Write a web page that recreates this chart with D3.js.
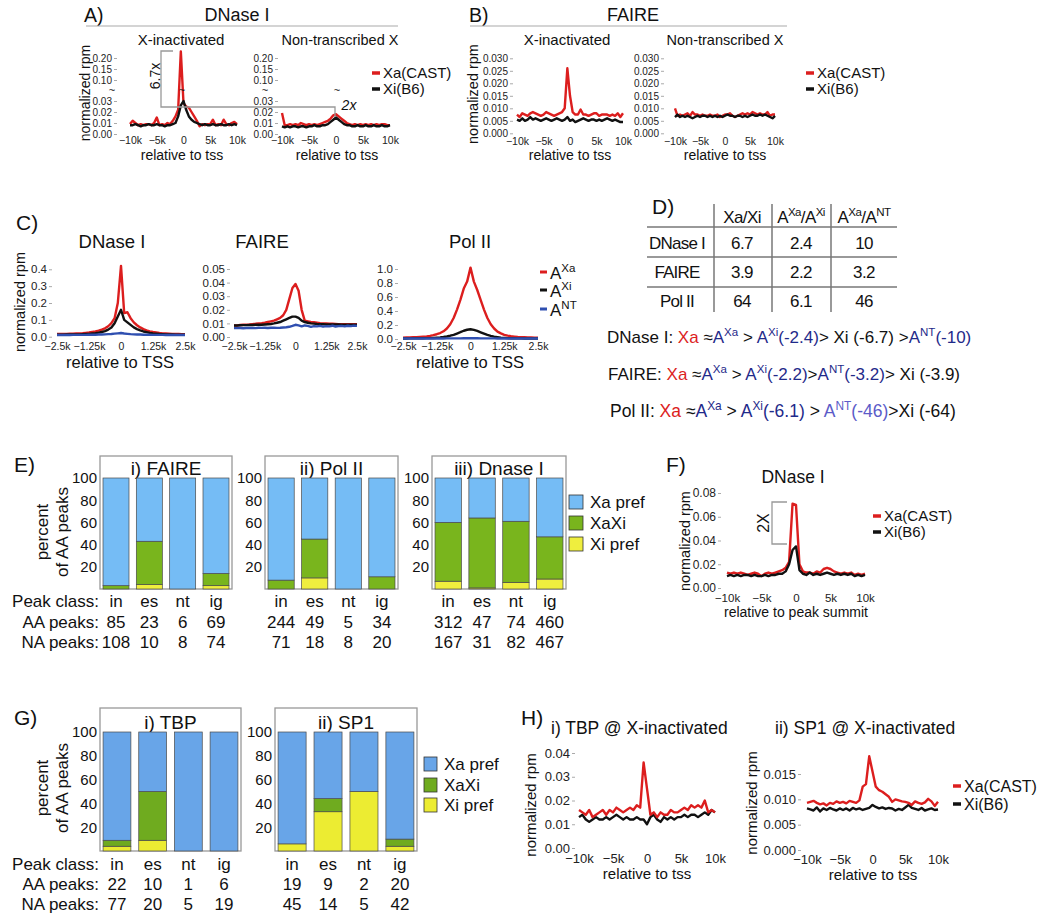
<!DOCTYPE html>
<html><head><meta charset="utf-8">
<script src="https://cdn.jsdelivr.net/npm/d3@7"></script>
<style>body{margin:0;background:#fff} svg{display:block}</style>
</head><body><svg id="c" width="1050" height="918"></svg>
<script>
// ---------------- DATA ----------------
const bins10 = [-10000,-9500,-9000,-8500,-8000,-7500,-7000,-6500,-6000,-5500,-5000,-4500,-4000,-3500,-3000,-2500,-2000,-1500,-1000,-500,0,500,1000,1500,2000,2500,3000,3500,4000,4500,5000,5500,6000,6500,7000,7500,8000,8500,9000,9500,10000];
const binsC = [-2500,-2375,-2250,-2125,-2000,-1875,-1750,-1625,-1500,-1375,-1250,-1125,-1000,-875,-750,-625,-500,-375,-250,-125,0,125,250,375,500,625,750,875,1000,1125,1250,1375,1500,1625,1750,1875,2000,2125,2250,2375,2500];
const ticks10 = [-10000,-5000,0,5000,10000];
const ticksC = [-2500,-1250,0,1250,2500];

// A) DNase I
const aInactXa = [0.009,0.012,0.010,0.008,0.009,0.008,0.009,0.009,0.008,0.010,0.015,0.008,0.009,0.008,0.010,0.009,0.012,0.016,0.022,0.230,0.028,0.025,0.024,0.020,0.016,0.012,0.007,0.009,0.008,0.009,0.009,0.013,0.008,0.009,0.008,0.013,0.009,0.008,0.010,0.011,0.009];
const aInactXi = [0.008,0.008,0.009,0.008,0.007,0.008,0.008,0.009,0.008,0.008,0.009,0.008,0.008,0.007,0.008,0.008,0.009,0.010,0.016,0.026,0.030,0.022,0.016,0.013,0.011,0.010,0.009,0.008,0.009,0.008,0.008,0.009,0.008,0.008,0.009,0.008,0.008,0.009,0.008,0.009,0.008];
const aNtXa = [0.019,0.008,0.008,0.009,0.008,0.009,0.008,0.010,0.009,0.008,0.009,0.008,0.009,0.008,0.009,0.010,0.011,0.012,0.014,0.017,0.018,0.016,0.014,0.012,0.010,0.009,0.008,0.009,0.008,0.009,0.008,0.009,0.008,0.009,0.008,0.009,0.008,0.009,0.009,0.008,0.008];
const aNtXi = [0.007,0.006,0.007,0.006,0.007,0.007,0.006,0.007,0.007,0.006,0.007,0.007,0.008,0.007,0.007,0.008,0.008,0.009,0.011,0.013,0.015,0.013,0.011,0.009,0.008,0.008,0.007,0.007,0.008,0.007,0.007,0.008,0.007,0.007,0.008,0.007,0.007,0.008,0.007,0.007,0.008];
const aTicks = [0,0.01,0.02,0.03,0.10,0.15,0.20];

// B) FAIRE
const bInactXa = [0.0075,0.0065,0.008,0.0075,0.007,0.008,0.0085,0.008,0.0075,0.007,0.0075,0.0085,0.008,0.0075,0.007,0.0075,0.008,0.0085,0.010,0.026,0.015,0.0085,0.0075,0.0075,0.0095,0.0075,0.0075,0.007,0.0075,0.008,0.008,0.007,0.0075,0.0075,0.0075,0.007,0.0075,0.007,0.008,0.0065,0.008];
const bInactXi = [0.0055,0.005,0.006,0.005,0.0055,0.0065,0.0055,0.006,0.0055,0.005,0.0055,0.006,0.0055,0.005,0.0055,0.006,0.0055,0.005,0.0055,0.0065,0.005,0.0055,0.0045,0.005,0.0055,0.006,0.0055,0.005,0.0055,0.0055,0.005,0.0055,0.005,0.0055,0.006,0.0055,0.005,0.0055,0.005,0.0045,0.0045];
const bNtXa = [0.010,0.007,0.0075,0.007,0.0075,0.008,0.007,0.0085,0.0075,0.0075,0.007,0.0075,0.007,0.007,0.0075,0.007,0.007,0.0075,0.0065,0.007,0.0075,0.0075,0.008,0.007,0.0065,0.007,0.0075,0.008,0.0075,0.008,0.0075,0.0085,0.008,0.0075,0.008,0.0075,0.0075,0.0085,0.007,0.0075,0.0075];
const bNtXi = [0.0065,0.0075,0.0065,0.007,0.0065,0.007,0.0065,0.006,0.0065,0.007,0.0065,0.007,0.007,0.0065,0.007,0.0065,0.007,0.0065,0.007,0.0065,0.007,0.0075,0.007,0.007,0.0065,0.007,0.007,0.0065,0.007,0.0065,0.007,0.0075,0.007,0.007,0.0075,0.007,0.0075,0.007,0.0065,0.006,0.007];
const bTicks = [0,0.005,0.010,0.015,0.020,0.025,0.030];

// C) allele profiles
const cDnaseAxa = [0.016,0.016,0.017,0.017,0.018,0.018,0.019,0.020,0.021,0.023,0.025,0.028,0.031,0.036,0.042,0.050,0.062,0.080,0.110,0.200,0.420,0.140,0.145,0.110,0.085,0.068,0.055,0.045,0.038,0.032,0.028,0.025,0.022,0.020,0.019,0.018,0.017,0.016,0.016,0.015,0.015];
const cDnaseAxi = [0.012,0.012,0.012,0.013,0.013,0.013,0.014,0.014,0.015,0.016,0.017,0.019,0.021,0.024,0.028,0.033,0.042,0.055,0.080,0.120,0.160,0.100,0.085,0.070,0.055,0.045,0.037,0.031,0.027,0.023,0.020,0.018,0.016,0.015,0.014,0.013,0.013,0.012,0.012,0.012,0.012];
const cDnaseAnt = [0.010,0.010,0.010,0.010,0.010,0.011,0.011,0.011,0.011,0.011,0.012,0.012,0.012,0.013,0.013,0.014,0.015,0.016,0.018,0.020,0.022,0.019,0.017,0.015,0.014,0.013,0.013,0.012,0.012,0.012,0.011,0.011,0.011,0.011,0.010,0.010,0.010,0.010,0.010,0.010,0.010];
const cFaireAxa = [0.0085,0.0085,0.0088,0.009,0.009,0.0092,0.0095,0.0097,0.010,0.0102,0.0105,0.011,0.0115,0.012,0.013,0.014,0.016,0.020,0.028,0.036,0.039,0.034,0.020,0.012,0.0115,0.011,0.0108,0.0105,0.0102,0.010,0.010,0.0098,0.0097,0.0096,0.0095,0.0095,0.0095,0.0094,0.0094,0.0095,0.0095];
const cFaireAxi = [0.0085,0.0085,0.0086,0.0087,0.0087,0.0088,0.0088,0.009,0.009,0.009,0.0092,0.0094,0.0096,0.010,0.0105,0.011,0.012,0.013,0.014,0.015,0.015,0.014,0.012,0.011,0.0105,0.010,0.0098,0.0096,0.0095,0.0094,0.0093,0.0093,0.0092,0.0092,0.0092,0.0091,0.0091,0.0091,0.009,0.009,0.009];
const cFaireAnt = [0.0065,0.0065,0.0066,0.0064,0.0066,0.0066,0.0067,0.0065,0.0068,0.0067,0.0068,0.0066,0.0068,0.0069,0.0067,0.0068,0.0070,0.0072,0.0075,0.0082,0.0090,0.0085,0.0078,0.0085,0.0082,0.0075,0.0080,0.0078,0.0082,0.0076,0.0080,0.0078,0.0083,0.0077,0.0080,0.0082,0.0078,0.0083,0.0080,0.0084,0.0082];
const cPolAxa = [0.020,0.021,0.022,0.024,0.026,0.029,0.033,0.038,0.045,0.055,0.068,0.085,0.110,0.150,0.210,0.300,0.420,0.560,0.720,0.820,1.020,0.820,0.700,0.560,0.420,0.300,0.210,0.150,0.105,0.080,0.060,0.048,0.040,0.034,0.029,0.026,0.024,0.022,0.021,0.020,0.020];
const cPolAxi = [0.008,0.008,0.009,0.009,0.010,0.010,0.011,0.012,0.013,0.015,0.018,0.022,0.028,0.036,0.047,0.060,0.078,0.097,0.118,0.132,0.140,0.130,0.115,0.095,0.076,0.058,0.044,0.033,0.026,0.020,0.016,0.013,0.011,0.010,0.009,0.009,0.008,0.008,0.008,0.008,0.008];
const cPolAnt = [0.008,0.008,0.008,0.008,0.008,0.008,0.008,0.008,0.008,0.008,0.008,0.008,0.008,0.009,0.009,0.009,0.009,0.009,0.010,0.010,0.010,0.010,0.010,0.009,0.009,0.009,0.009,0.009,0.008,0.008,0.008,0.008,0.008,0.008,0.008,0.008,0.008,0.008,0.008,0.008,0.008];

// D) table
const dRows = ['DNase I','FAIRE','Pol II'];
const dXaXi = ['6.7','3.9','64'];
const dAxaAxi = ['2.4','2.2','6.1'];
const dAxaAnt = ['10','3.2','46'];

// E) stacked bars (percent of AA peaks)
const peakClasses = ['in','es','nt','ig'];
const eFaireXiPref = [0,4,0,3],  eFaireXaXi = [3,39,0,11],  eFaireXaPref = [97,57,100,86];
const ePolXiPref   = [0,10,0,0], ePolXaXi   = [8,35,0,11],  ePolXaPref   = [92,55,100,89];
const eDnaseXiPref = [7,1,6,9],  eDnaseXaXi = [53,63,55,38],eDnaseXaPref = [40,36,39,53];
const eFaireAA = [85,23,6,69],   eFaireNA = [108,10,8,74];
const ePolAA   = [244,49,5,34],  ePolNA   = [71,18,8,20];
const eDnaseAA = [312,47,74,460],eDnaseNA = [167,31,82,467];
const pctTicks = [20,40,60,80,100];

// F) DNase at peak summits
const fXa = [0.013,0.012,0.013,0.012,0.013,0.012,0.011,0.012,0.013,0.012,0.010,0.012,0.013,0.012,0.013,0.014,0.015,0.017,0.022,0.071,0.070,0.020,0.014,0.013,0.013,0.012,0.014,0.013,0.016,0.017,0.016,0.014,0.013,0.012,0.013,0.012,0.013,0.011,0.012,0.011,0.012];
const fXi = [0.010,0.011,0.010,0.011,0.010,0.011,0.011,0.010,0.011,0.010,0.010,0.011,0.010,0.011,0.011,0.012,0.012,0.014,0.020,0.032,0.035,0.015,0.012,0.011,0.013,0.011,0.012,0.011,0.012,0.013,0.012,0.011,0.012,0.011,0.012,0.011,0.012,0.010,0.011,0.010,0.011];

// G) TBP / SP1 stacked bars
const gTbpXiPref = [4,9,0,0],  gTbpXaXi = [5,41,0,0],  gTbpXaPref = [91,50,100,100];
const gSp1XiPref = [6,33,50,4],gSp1XaXi = [0,11,0,6],  gSp1XaPref = [94,56,50,90];
const gTbpAA = [22,10,1,6],  gTbpNA = [77,20,5,19];
const gSp1AA = [19,9,2,20],  gSp1NA = [45,14,5,42];

// H) TBP / SP1 profiles
const hTbpXa = [0.016,0.015,0.014,0.016,0.013,0.014,0.015,0.016,0.014,0.016,0.015,0.017,0.016,0.015,0.016,0.017,0.016,0.018,0.017,0.036,0.025,0.014,0.015,0.013,0.015,0.014,0.014,0.016,0.015,0.015,0.016,0.017,0.016,0.018,0.017,0.018,0.017,0.020,0.015,0.016,0.015];
const hTbpXi = [0.013,0.014,0.012,0.011,0.012,0.013,0.012,0.012,0.013,0.012,0.013,0.014,0.013,0.012,0.013,0.012,0.012,0.013,0.012,0.012,0.010,0.013,0.014,0.012,0.011,0.013,0.012,0.013,0.012,0.013,0.013,0.014,0.013,0.014,0.014,0.013,0.014,0.015,0.014,0.016,0.015];
const hSp1Xa = [0.0093,0.0095,0.0097,0.0093,0.009,0.0092,0.0088,0.0093,0.0091,0.0096,0.0093,0.0095,0.0092,0.0097,0.0095,0.0093,0.0098,0.0125,0.013,0.0185,0.0155,0.0125,0.0118,0.0115,0.011,0.0105,0.0095,0.010,0.0098,0.0096,0.0095,0.0093,0.0089,0.0096,0.0093,0.0091,0.0094,0.0101,0.0096,0.0087,0.0095];
const hSp1Xi = [0.0082,0.0080,0.0078,0.0084,0.0076,0.0082,0.0079,0.0083,0.0080,0.0078,0.0082,0.0079,0.0082,0.0078,0.0083,0.0080,0.0082,0.0079,0.0081,0.0083,0.0089,0.0085,0.0082,0.0084,0.0081,0.0083,0.0082,0.0078,0.0081,0.0079,0.0084,0.0089,0.0083,0.0081,0.0079,0.0083,0.0078,0.0080,0.0082,0.0079,0.0080];

// ---------------- DRAWING ----------------
const FONT = '"Liberation Sans", Arial, Helvetica, sans-serif';
const RED = '#dc1e1e', BLK = '#111', BLU = '#2f4fb0', GRY = '#999', DBLU = '#1f2a8a';
const svg = d3.select('#c').attr('font-family', FONT);

function T(x, y, s, o = {}) {
  const t = svg.append('text').attr('x', x).attr('y', y).attr('dy', '0.35em')
    .attr('font-size', o.fs || 14).attr('text-anchor', o.anchor || 'middle')
    .attr('fill', o.fill || '#111').text(s);
  if (o.rot) t.attr('transform', `rotate(${o.rot},${x},${y})`);
  if (o.style) t.attr('font-style', o.style);
  if (o.ls) t.attr('letter-spacing', o.ls);
  return t;
}
function R(x, y, parts, o = {}) {
  const fs = o.fs || 16;
  const t = svg.append('text').attr('x', x).attr('y', y).attr('dy', '0.35em')
    .attr('font-size', fs).attr('text-anchor', o.anchor || 'start');
  if (o.len) t.attr('textLength', o.len).attr('lengthAdjust', 'spacingAndGlyphs');
  if (o.ls) t.attr('letter-spacing', o.ls);
  let shifted = false;
  parts.forEach(([s, c, sup]) => {
    const ts = t.append('tspan').attr('fill', c || '#111').text(s);
    if (sup && !shifted) { ts.attr('dy', -fs * 0.4).attr('font-size', fs * 0.68); shifted = true; }
    else if (sup) { ts.attr('font-size', fs * 0.68); }
    else if (shifted) { ts.attr('dy', fs * 0.4); shifted = false; }
  });
  return t;
}
function yAxis(scale, x, ticks, fmt, fs = 12, size = 3) {
  const g = svg.append('g').attr('transform', `translate(${x},0)`)
    .call(d3.axisLeft(scale).tickValues(ticks).tickFormat(fmt).tickSize(size).tickPadding(2));
  g.select('.domain').remove();
  g.attr('font-family', FONT).attr('font-size', fs);
  g.selectAll('line').attr('stroke', '#aaa');
  g.selectAll('text').attr('fill', '#222');
  return g;
}
const fmtK = d => d === 0 ? '0' : (d < 0 ? '\u2212' : '') + (Math.abs(d) / 1000) + 'k';
function xAxis(scale, y, ticks, fs = 12) {
  const g = svg.append('g').attr('transform', `translate(0,${y})`)
    .call(d3.axisBottom(scale).tickValues(ticks).tickFormat(fmtK).tickSize(0).tickPadding(0));
  g.select('.domain').remove();
  g.attr('font-family', FONT).attr('font-size', fs);
  g.selectAll('text').attr('y', 0).attr('dy', '0.35em').attr('fill', '#222');
}
function lines(xs, ys, bins, series, w = 2.4) {
  series.forEach(([vals, col]) => {
    svg.append('path').datum(vals)
      .attr('d', d3.line().x((d, i) => xs(bins[i])).y(d => ys(d)))
      .attr('fill', 'none').attr('stroke', col).attr('stroke-width', w)
      .attr('stroke-linejoin', 'round');
  });
}
function legendLine(x, y, label, col, fs = 15) {
  svg.append('line').attr('x1', x).attr('x2', x + 8).attr('y1', y).attr('y2', y)
    .attr('stroke', col).attr('stroke-width', 3.5);
  T(x + 11, y, label, { fs, anchor: 'start' });
}
function poly(pts, col = GRY, w = 1.3) {
  svg.append('path').attr('d', d3.line()(pts)).attr('fill', 'none').attr('stroke', col).attr('stroke-width', w);
}

// ===== Panel A =====
T(84, 15, 'A)', { fs: 19.5, anchor: 'start' });
T(237, 15, 'DNase I', { fs: 18 });
svg.append('line').attr('x1', 86).attr('x2', 398).attr('y1', 26).attr('y2', 26).attr('stroke', '#aaa').attr('stroke-width', 1.2);
T(181, 40, 'X-inactivated', { fs: 15 });
T(340, 40, 'Non-transcribed X', { fs: 14.5 });
T(85, 93, 'normalized rpm', { fs: 14, rot: -90 });
const yA = d3.scaleLinear().domain([0, 0.03, 0.10, 0.25]).range([134, 101, 80, 47]);
const xA1 = d3.scaleLinear().domain([-10000, 10000]).range([130, 237]);
const xA2 = d3.scaleLinear().domain([-10000, 10000]).range([282, 390]);
yAxis(yA, 117, aTicks, d3.format('.2f'), 10);
yAxis(yA, 278, aTicks, d3.format('.2f'), 10);
lines(xA1, yA, bins10, [[aInactXa, RED], [aInactXi, BLK]]);
lines(xA2, yA, bins10, [[aNtXa, RED], [aNtXi, BLK]]);
xAxis(xA1, 140, ticks10, 10.5);
xAxis(xA2, 140, ticks10, 10.5);
T(182, 155, 'relative to tss', { fs: 14 });
T(337, 155, 'relative to tss', { fs: 14 });
[112, 182, 265, 337].forEach(x => T(x, 90.5, '~', { fs: 11 }));
poly([[173, 51], [161, 51], [161, 107], [335, 107], [335, 117]]);
T(155, 76, '6.7x', { fs: 14, rot: -90 });
T(349, 105, '2x', { fs: 14, style: 'italic' });
legendLine(372, 73, 'Xa(CAST)', RED);
legendLine(372, 89, 'Xi(B6)', BLK);

// ===== Panel B =====
T(469, 15, 'B)', { fs: 19.5, anchor: 'start' });
T(633, 15, 'FAIRE', { fs: 18 });
svg.append('line').attr('x1', 470).attr('x2', 787).attr('y1', 26).attr('y2', 26).attr('stroke', '#aaa').attr('stroke-width', 1.2);
T(567, 40, 'X-inactivated', { fs: 15 });
T(725, 40, 'Non-transcribed X', { fs: 14.5 });
T(473, 94, 'normalized rpm', { fs: 14.5, rot: -90 });
const yB = d3.scaleLinear().domain([0, 0.03]).range([133.3, 58.3]);
const xB1 = d3.scaleLinear().domain([-10000, 10000]).range([517, 623]);
const xB2 = d3.scaleLinear().domain([-10000, 10000]).range([675, 775]);
yAxis(yB, 513, bTicks, d3.format('.3f'), 10);
yAxis(yB, 664, bTicks, d3.format('.3f'), 10);
lines(xB1, yB, bins10, [[bInactXa, RED], [bInactXi, BLK]]);
lines(xB2, yB, bins10, [[bNtXa, RED], [bNtXi, BLK]]);
xAxis(xB1, 141, ticks10, 10.5);
xAxis(xB2, 141, ticks10, 10.5);
T(570, 155, 'relative to tss', { fs: 14 });
T(725, 155, 'relative to tss', { fs: 14 });
legendLine(806, 73, 'Xa(CAST)', RED);
legendLine(806, 89, 'Xi(B6)', BLK);

// ===== Panel C =====
T(16, 223, 'C)', { fs: 21, anchor: 'start' });
T(112, 242, 'DNase I', { fs: 18.5 });
T(262, 242, 'FAIRE', { fs: 18.5 });
T(470, 242, 'Pol II', { fs: 18.5 });
T(20, 302, 'normalized rpm', { fs: 14.5, rot: -90 });
const yC1 = d3.scaleLinear().domain([0, 0.4]).range([336.7, 269.3]);
const yC2 = d3.scaleLinear().domain([0, 0.05]).range([337, 269]);
const yC3 = d3.scaleLinear().domain([0, 1.0]).range([339, 269]);
const xC1 = d3.scaleLinear().domain([-2500, 2500]).range([57, 185]);
const xC2 = d3.scaleLinear().domain([-2500, 2500]).range([234, 357]);
const xC3 = d3.scaleLinear().domain([-2500, 2500]).range([403, 538]);
yAxis(yC1, 52, [0, 0.1, 0.2, 0.3, 0.4], d3.format('.1f'), 11.5);
yAxis(yC2, 230, [0, 0.01, 0.02, 0.03, 0.04, 0.05], d3.format('.2f'), 11.5);
yAxis(yC3, 398, [0, 0.2, 0.4, 0.6, 0.8, 1.0], d3.format('.1f'), 11.5);
lines(xC1, yC1, binsC, [[cDnaseAxa, RED], [cDnaseAxi, BLK], [cDnaseAnt, BLU]]);
lines(xC2, yC2, binsC, [[cFaireAxa, RED], [cFaireAxi, BLK], [cFaireAnt, BLU]]);
lines(xC3, yC3, binsC, [[cPolAxa, RED], [cPolAxi, BLK], [cPolAnt, BLU]]);
xAxis(xC1, 346, ticksC, 10.5);
xAxis(xC2, 346, ticksC, 10.5);
xAxis(xC3, 346, ticksC, 10.5);
T(120, 362, 'relative to TSS', { fs: 16.5 });
T(470, 362, 'relative to TSS', { fs: 16.5 });
[[270, RED, 'Xa'], [288, BLK, 'Xi'], [307, BLU, 'NT']].forEach(([y, c, s]) => {
  svg.append('line').attr('x1', 540).attr('x2', 547).attr('y1', y + 2).attr('y2', y + 2).attr('stroke', c).attr('stroke-width', 3);
  R(550, y + 3, [['A', '#111'], [s, '#111', true]], { fs: 17 });
});

// ===== Panel D =====
T(652, 207, 'D)', { fs: 21, anchor: 'start' });
[714, 772, 831].forEach(x => svg.append('line').attr('x1', x).attr('x2', x).attr('y1', 204).attr('y2', 312).attr('stroke', '#777').attr('stroke-width', 1.5));
[227, 257, 287].forEach(y => svg.append('line').attr('x1', 647).attr('x2', 897).attr('y1', y).attr('y2', y).attr('stroke', '#777').attr('stroke-width', 1.5));
T(742, 217, 'Xa/Xi', { fs: 17, ls: -0.6 });
R(801, 217, [['A'], ['Xa', '#111', true], ['/A'], ['Xi', '#111', true]], { fs: 17, anchor: 'middle', ls: -0.6 });
R(864, 217, [['A'], ['Xa', '#111', true], ['/A'], ['NT', '#111', true]], { fs: 17, anchor: 'middle', ls: -0.6 });
const rowY = [243, 272, 301];
dRows.forEach((r, i) => {
  T(677, rowY[i], r, { fs: 17, ls: -0.8 });
  T(742, rowY[i], dXaXi[i], { fs: 17, ls: -0.6 });
  T(801, rowY[i], dAxaAxi[i], { fs: 17, ls: -0.6 });
  T(864, rowY[i], dAxaAnt[i], { fs: 17, ls: -0.6 });
});
R(607, 337, [['DNase I: '], ['Xa', RED], [' \u2248'], ['A', DBLU], ['Xa', DBLU, true], [' > '], ['A', DBLU], ['Xi', DBLU, true], ['(-2.4)', DBLU], ['> Xi (-6.7) >'], ['A', DBLU], ['NT', DBLU, true], ['(-10)', DBLU]], { fs: 17 });
R(608, 374, [['FAIRE: '], ['Xa', RED], [' \u2248'], ['A', DBLU], ['Xa', DBLU, true], [' > '], ['A', DBLU], ['Xi', DBLU, true], ['(-2.2)', DBLU], ['>'], ['A', DBLU], ['NT', DBLU, true], ['(-3.2)', DBLU], ['> Xi (-3.9)']], { fs: 17 });
R(610, 411, [['Pol II: '], ['Xa', RED], [' \u2248'], ['A', DBLU], ['Xa', DBLU, true], [' > '], ['A', DBLU], ['Xi', DBLU, true], ['(-6.1)', DBLU], [' > '], ['A', '#5b5bc8'], ['NT', '#5b5bc8', true], ['(-46)', '#5b5bc8'], ['>Xi (-64)']], { fs: 17.5 });

// ===== Stacked bar helper =====
function barFacet(o) {
  const { x0, x1, yTop, y, xiPref, xaxi, xaPref, title, titleY, col } = o;
  const band = d3.scaleBand().domain(peakClasses).range([x0 + 2, x1 - 2]).paddingInner(0.22).paddingOuter(0.03);
  svg.append('rect').attr('x', x0).attr('y', yTop).attr('width', x1 - x0).attr('height', y(0) - yTop)
    .attr('fill', 'none').attr('stroke', '#999').attr('stroke-width', 1.3);
  T((x0 + x1) / 2, titleY, title, { fs: 19 });
  const rows = peakClasses.map((c, i) => ({ c, xi: xiPref[i], xx: xaxi[i], xa: xaPref[i] }));
  const stack = d3.stack().keys(['xi', 'xx', 'xa'])(rows);
  stack.forEach(layer => {
    svg.append('g').selectAll('rect').data(layer.filter(d => d[1] - d[0] > 0)).join('rect')
      .attr('x', d => band(d.data.c)).attr('width', band.bandwidth())
      .attr('y', d => y(d[1])).attr('height', d => y(d[0]) - y(d[1]))
      .attr('fill', col[layer.key]).attr('stroke', '#4a4a4a').attr('stroke-width', 0.7);
  });
  const g = svg.append('g').attr('transform', `translate(${x0},0)`)
    .call(d3.axisLeft(y).tickValues(pctTicks).tickSize(0).tickPadding(3));
  g.select('.domain').remove();
  g.attr('font-family', FONT).attr('font-size', 15);
  g.selectAll('text').attr('fill', '#111');
  return band;
}
function tableRows(band, ys, rows, fs = 17) {
  rows.forEach((vals, r) => {
    peakClasses.forEach((c, i) => T(band(c) + band.bandwidth() / 2, ys[r], String(vals[i]), { fs }));
  });
}

// ===== Panel E =====
const eCol = { xi: '#efee3e', xx: '#79b51d', xa: '#75bcf5' };
T(14, 465, 'E)', { fs: 21, anchor: 'start' });
T(42, 532, 'percent', { fs: 17, rot: -90 });
T(62, 532, 'of AA peaks', { fs: 17, rot: -90 });
const yE = d3.scaleLinear().domain([0, 100]).range([589, 478]);
const eY = [601, 622, 642];
const bE1 = barFacet({ x0: 100, x1: 232, yTop: 456, y: yE, xiPref: eFaireXiPref, xaxi: eFaireXaXi, xaPref: eFaireXaPref, title: 'i) FAIRE', titleY: 468, col: eCol });
const bE2 = barFacet({ x0: 265, x1: 398, yTop: 456, y: yE, xiPref: ePolXiPref, xaxi: ePolXaXi, xaPref: ePolXaPref, title: 'ii) Pol II', titleY: 468, col: eCol });
const bE3 = barFacet({ x0: 432, x1: 566, yTop: 456, y: yE, xiPref: eDnaseXiPref, xaxi: eDnaseXaXi, xaPref: eDnaseXaPref, title: 'iii) Dnase I', titleY: 468, col: eCol });
T(99, eY[0], 'Peak class:', { fs: 17, anchor: 'end' });
T(99, eY[1], 'AA peaks:', { fs: 17, anchor: 'end' });
T(99, eY[2], 'NA peaks:', { fs: 17, anchor: 'end' });
tableRows(bE1, eY, [peakClasses, eFaireAA, eFaireNA]);
tableRows(bE2, eY, [peakClasses, ePolAA, ePolNA]);
tableRows(bE3, eY, [peakClasses, eDnaseAA, eDnaseNA]);
[['Xa pref', eCol.xa, 495], ['XaXi', eCol.xx, 516], ['Xi pref', eCol.xi, 537]].forEach(([s, c, y]) => {
  svg.append('rect').attr('x', 569).attr('y', y).attr('width', 14).attr('height', 14).attr('fill', c).attr('stroke', '#333').attr('stroke-width', 0.8);
  T(590, y + 7, s, { fs: 17, anchor: 'start' });
});

// ===== Panel F =====
T(666, 465, 'F)', { fs: 21, anchor: 'start' });
T(793, 477, 'DNase I', { fs: 17.5 });
T(685, 541, 'normalized rpm', { fs: 14.5, rot: -90 });
const yF = d3.scaleLinear().domain([0, 0.08]).range([588, 493]);
const xF = d3.scaleLinear().domain([-10000, 10000]).range([727, 865]);
yAxis(yF, 721, [0, 0.02, 0.04, 0.06, 0.08], d3.format('.2f'));
lines(xF, yF, bins10, [[fXa, RED], [fXi, BLK]]);
xAxis(xF, 598, ticks10, 11.5);
T(796, 612, 'relative to peak summit', { fs: 14 });
poly([[787, 502], [772, 502], [772, 544], [787, 544]]);
T(763, 523, '2X', { fs: 16, rot: -90 });
legendLine(873, 516, 'Xa(CAST)', RED, 15);
legendLine(873, 532, 'Xi(B6)', BLK, 15);

// ===== Panel G =====
const gCol = { xi: '#ecec32', xx: '#6fab1f', xa: '#68a5e8' };
T(14, 718, 'G)', { fs: 21, anchor: 'start' });
T(42, 788, 'percent', { fs: 17, rot: -90 });
T(62, 788, 'of AA peaks', { fs: 17, rot: -90 });
const yG = d3.scaleLinear().domain([0, 100]).range([851, 732]);
const gY = [864, 884, 904];
const bG1 = barFacet({ x0: 100, x1: 241, yTop: 708, y: yG, xiPref: gTbpXiPref, xaxi: gTbpXaXi, xaPref: gTbpXaPref, title: 'i) TBP', titleY: 722, col: gCol });
const bG2 = barFacet({ x0: 275, x1: 417, yTop: 708, y: yG, xiPref: gSp1XiPref, xaxi: gSp1XaXi, xaPref: gSp1XaPref, title: 'ii) SP1', titleY: 722, col: gCol });
T(99, gY[0], 'Peak class:', { fs: 17, anchor: 'end' });
T(99, gY[1], 'AA peaks:', { fs: 17, anchor: 'end' });
T(99, gY[2], 'NA peaks:', { fs: 17, anchor: 'end' });
tableRows(bG1, gY, [peakClasses, gTbpAA, gTbpNA]);
tableRows(bG2, gY, [peakClasses, gSp1AA, gSp1NA]);
[['Xa pref', gCol.xa, 757], ['XaXi', gCol.xx, 778], ['Xi pref', gCol.xi, 798]].forEach(([s, c, y]) => {
  svg.append('rect').attr('x', 424).attr('y', y).attr('width', 13).attr('height', 14).attr('fill', c).attr('stroke', '#333').attr('stroke-width', 0.8);
  T(444, y + 7, s, { fs: 17, anchor: 'start' });
});

// ===== Panel H =====
T(521, 718, 'H)', { fs: 21, anchor: 'start' });
T(551, 728, 'i) TBP @ X-inactivated', { fs: 17.5, anchor: 'start' });
T(775, 728, 'ii) SP1 @ X-inactivated', { fs: 17.5, anchor: 'start' });
T(531, 805, 'normalized rpm', { fs: 15, rot: -90 });
T(752, 803, 'normalized rpm', { fs: 15, rot: -90 });
const yH1 = d3.scaleLinear().domain([0, 0.04]).range([848, 753]);
const yH2 = d3.scaleLinear().domain([0, 0.015]).range([850, 774]);
const xH1 = d3.scaleLinear().domain([-10000, 10000]).range([579, 715]);
const xH2 = d3.scaleLinear().domain([-10000, 10000]).range([807, 938]);
yAxis(yH1, 575, [0, 0.01, 0.02, 0.03, 0.04], d3.format('.2f'), 13);
yAxis(yH2, 801, [0, 0.005, 0.010, 0.015], d3.format('.3f'), 13);
lines(xH1, yH1, bins10, [[hTbpXi, BLK], [hTbpXa, RED]]);
lines(xH2, yH2, bins10, [[hSp1Xi, BLK], [hSp1Xa, RED]]);
xAxis(xH1, 858, ticks10, 13);
xAxis(xH2, 859, ticks10, 13);
T(647, 874, 'relative to tss', { fs: 15 });
T(873, 875, 'relative to tss', { fs: 15 });
legendLine(953, 786, 'Xa(CAST)', RED, 16);
legendLine(953, 804, 'Xi(B6)', BLK, 16);
</script></body></html>
